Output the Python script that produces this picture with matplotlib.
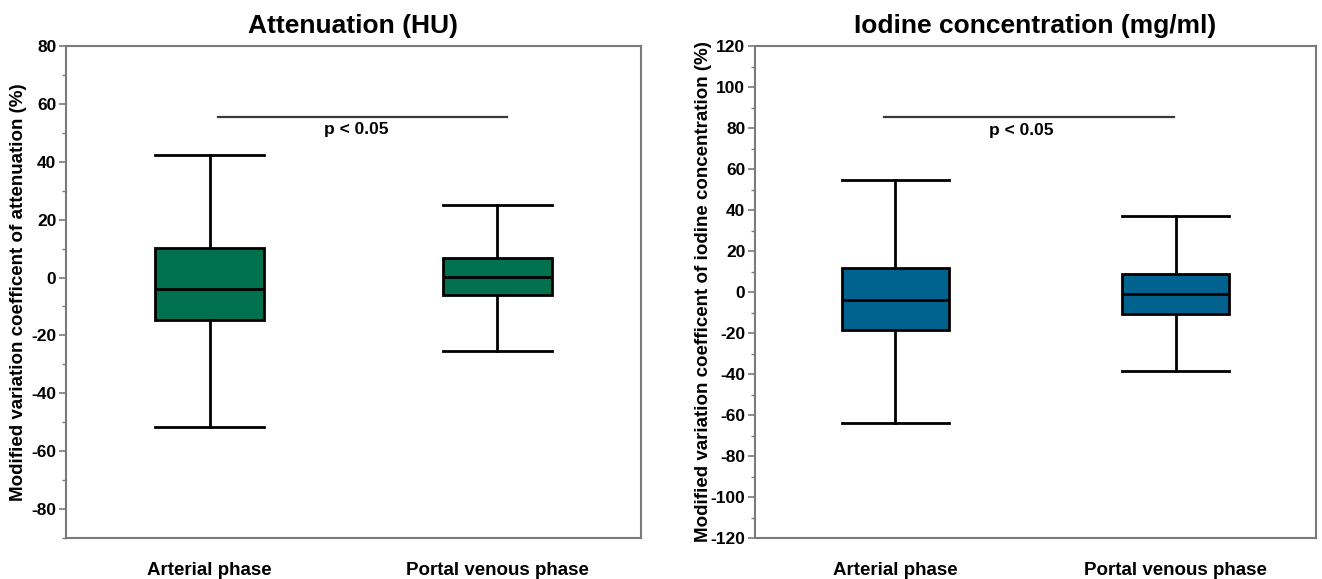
import matplotlib
matplotlib.use('Agg')
import matplotlib.pyplot as plt
from matplotlib.ticker import MultipleLocator

plt.rcParams['font.family'] = ['Liberation Sans', 'DejaVu Sans']
plt.rcParams['font.weight'] = 'bold'
plt.rcParams['axes.unicode_minus'] = False

# ── data ────────────────────────────────────────────────────────────────────
phases = ['Arterial phase', 'Portal venous phase']

# attenuation (HU) : whislo, q1, median, q3, whishi
att_low = [-51.7, -25.5]
att_q1 = [-14.8, -6.2]
att_med = [-4.1, 0.3]
att_q3 = [10.3, 6.9]
att_high = [42.4, 25.2]

# iodine concentration (mg/ml)
iod_low = [-63.9, -38.5]
iod_q1 = [-18.5, -10.7]
iod_med = [-3.9, -1.0]
iod_q3 = [11.7, 8.8]
iod_high = [54.6, 37.1]

att_sig = 55.5
iod_sig = 85.4
p_text = 'p < 0.05'

green = '#00704f'
blue = '#00628f'
spine_gray = '#7a7a7a'


def make_stats(lo, q1, med, q3, hi):
    return [dict(whislo=lo[i], q1=q1[i], med=med[i], q3=q3[i], whishi=hi[i],
                 fliers=[], label=phases[i]) for i in range(len(phases))]


def draw_panel(ax, stats, color, title, ylabel, ylim, yticks, sig_y, sig_x, txt_x, txt_y, lab_x):
    ax.bxp(stats, positions=[0, 1], widths=0.38, capwidths=0.38, patch_artist=True,
           showfliers=False,
           boxprops=dict(facecolor=color, edgecolor='black', linewidth=2),
           medianprops=dict(color='black', linewidth=2),
           whiskerprops=dict(color='black', linewidth=2),
           capprops=dict(color='black', linewidth=2))
    ax.set_xlim(-0.5, 1.5)
    ax.set_ylim(*ylim)
    ax.set_yticks(yticks)
    ax.yaxis.set_minor_locator(MultipleLocator(10))
    ax.tick_params(axis='y', which='major', length=5, width=1.2, color=spine_gray,
                   labelsize=12.5, pad=2)
    ax.tick_params(axis='y', which='minor', length=3, width=1.0, color=spine_gray)
    ax.tick_params(axis='x', length=0, labelsize=13.5, pad=17)
    for lab in ax.get_xticklabels() + ax.get_yticklabels():
        lab.set_fontweight('bold')
    for sp in ax.spines.values():
        sp.set_color(spine_gray)
        sp.set_linewidth(1.5)
    ax.set_title(title, fontsize=19, fontweight='bold', pad=9)
    ax.set_ylabel(ylabel, fontsize=13.5, fontweight='bold')
    ax.yaxis.set_label_coords(lab_x, 0.5)
    ax.plot(sig_x, [sig_y, sig_y], color='#3a3a3a', linewidth=1.6)
    ax.text(txt_x, txt_y, p_text, ha='center', va='center', fontsize=12.5,
            fontweight='bold')


fig = plt.figure(figsize=(13.22, 5.79), dpi=100)
ax1 = fig.add_axes([66 / 1322, 1 - 538 / 579, (641 - 66) / 1322, (538 - 46) / 579])
ax2 = fig.add_axes([755 / 1322, 1 - 538 / 579, (1316 - 755) / 1322, (538 - 46) / 579])

draw_panel(ax1, make_stats(att_low, att_q1, att_med, att_q3, att_high), green,
           'Attenuation (HU)', 'Modified variation coefficent of attenuation (%)',
           (-90, 80), list(range(-80, 81, 20)), att_sig, [0.03, 1.035], 0.51, 51, -0.068)
draw_panel(ax2, make_stats(iod_low, iod_q1, iod_med, iod_q3, iod_high), blue,
           'Iodine concentration (mg/ml)', 'Modified variation coefficent of iodine concentration (%)',
           (-120, 120), list(range(-120, 121, 20)), iod_sig, [-0.04, 0.995], 0.45, 79, -0.076)

fig.savefig('out.png', dpi=100)
